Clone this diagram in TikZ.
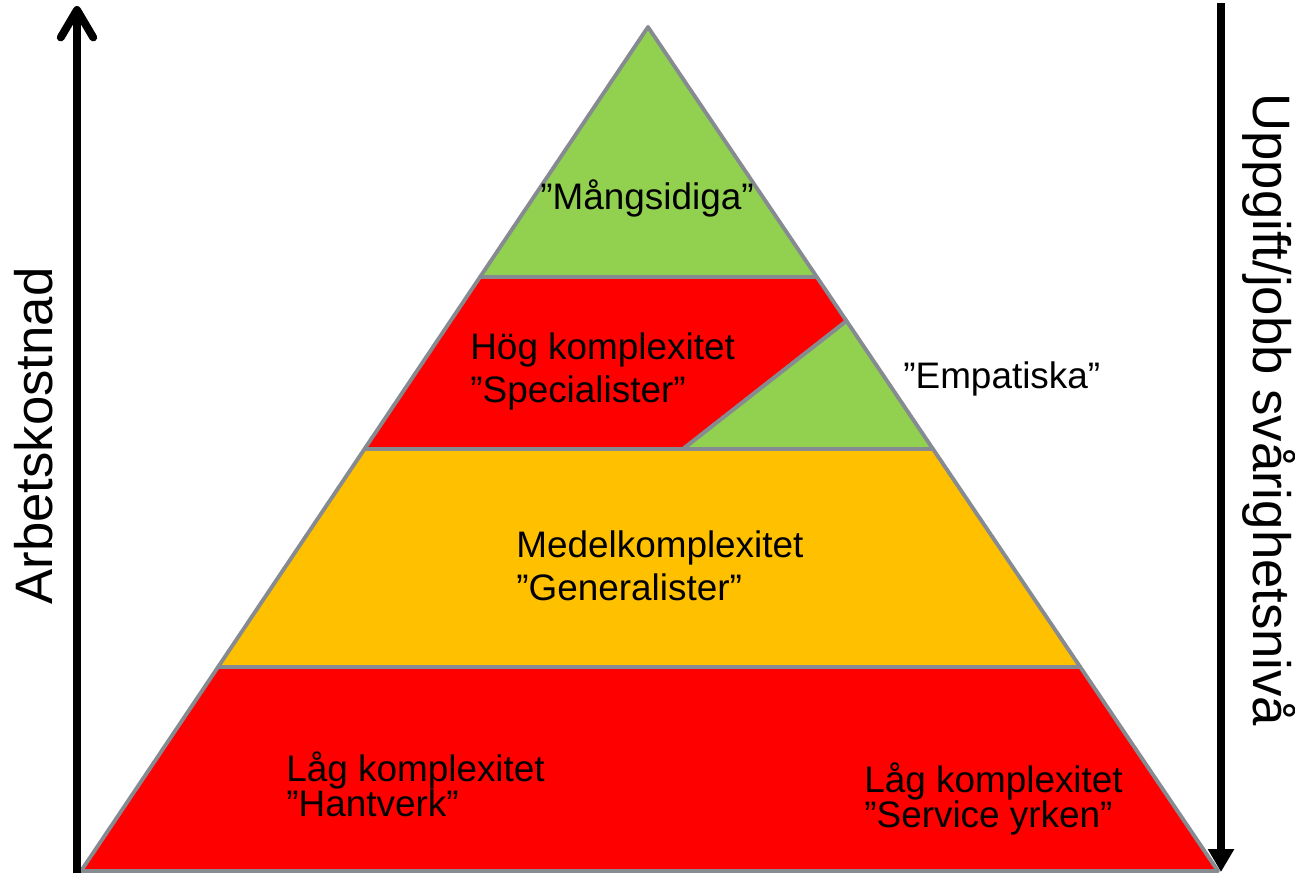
\documentclass[tikz,border=0pt]{standalone}
\usepackage{fontspec}
\setmainfont{Liberation Sans}
\usetikzlibrary{arrows.meta, calc}

\definecolor{tiergreen}{RGB}{146,208,80}
\definecolor{tierred}{RGB}{255,0,0}
\definecolor{tierorange}{RGB}{255,192,0}
\definecolor{edgegray}{RGB}{134,139,146}

\begin{document}
\begin{tikzpicture}[x=0.02cm, y=-0.02cm, line join=round,
	band/.style={draw=edgegray, line width=2.2pt},
	tiertext/.style={anchor=base west, inner sep=0pt, align=left, font=\fontsize{21}{24.4}\selectfont},
	lowtext/.style={tiertext, font=\fontsize{21}{19.7}\selectfont},
	axistext/.style={anchor=base, inner sep=0pt, font=\fontsize{30}{36}\selectfont}]
	\useasboundingbox (0,0) rectangle (1295,873);
	
	% corners of the pyramid
	\coordinate (apex) at (648,27);
	\coordinate (bl) at (81,871);
	\coordinate (br) at (1218,871);
	\coordinate (l1) at ($(apex)!0.2962!(bl)$);
	\coordinate (r1) at ($(apex)!0.2962!(br)$);
	\coordinate (l2) at ($(apex)!0.5!(bl)$);
	\coordinate (r2) at ($(apex)!0.5!(br)$);
	\coordinate (l3) at ($(apex)!0.7583!(bl)$);
	\coordinate (r3) at ($(apex)!0.7583!(br)$);
	\coordinate (er) at ($(apex)!0.3483!(br)$);
	\coordinate (el) at (683,449);
	
	% bands
	\draw[band, fill=tiergreen] (apex) -- (l1) -- (r1) -- cycle;
	\draw[band, fill=tierred] (l1) -- (l2) -- (el) -- (er) -- (r1) -- cycle;
	\draw[band, fill=tiergreen] (er) -- (el) -- (r2) -- cycle;
	\draw[band, fill=tierorange] (l2) -- (l3) -- (r3) -- (r2) -- cycle;
	\draw[band, fill=tierred] (l3) -- (bl) -- (br) -- (r3) -- cycle;
	
	% texts (base = last line)
	\node (mang) [tiertext] at (540,209) {”Mångsidiga”};
	\node (emp) [tiertext] at (903,388) {”Empatiska”};
	\node (hog) [tiertext] at (470,402) {Hög komplexitet\\”Specialister”};
	\node (medel) [tiertext] at (516,600) {Medelkomplexitet\\”Generalister”};
	\node (hant) [lowtext] at (286,816) {Låg komplexitet\\”Hantverk”};
	\node (serv) [lowtext] at (864,827) {Låg komplexitet\\”Service yrken”};
	
	% axes
	\coordinate (costlow) at (77,873);
	\coordinate (costhigh) at (77,6);
	\coordinate (diffeasy) at (1221,3);
	\coordinate (diffhard) at (1221,872);
	\draw[line width=4.5pt, -{Straight Barb[length=0.55cm, width=0.65cm, round]}] (costlow) -- (costhigh);
	\draw[line width=4.5pt, -{Triangle[length=0.46cm, width=0.5cm]}] (diffeasy) -- (diffhard);
	
	\node (cost) [axistext, rotate=90] at (52,436) {Arbetskostnad};
	\node (diff) [axistext, rotate=-90] at (1253,410) {Uppgift/jobb svårighetsnivå};
	
\end{tikzpicture}
\end{document}
